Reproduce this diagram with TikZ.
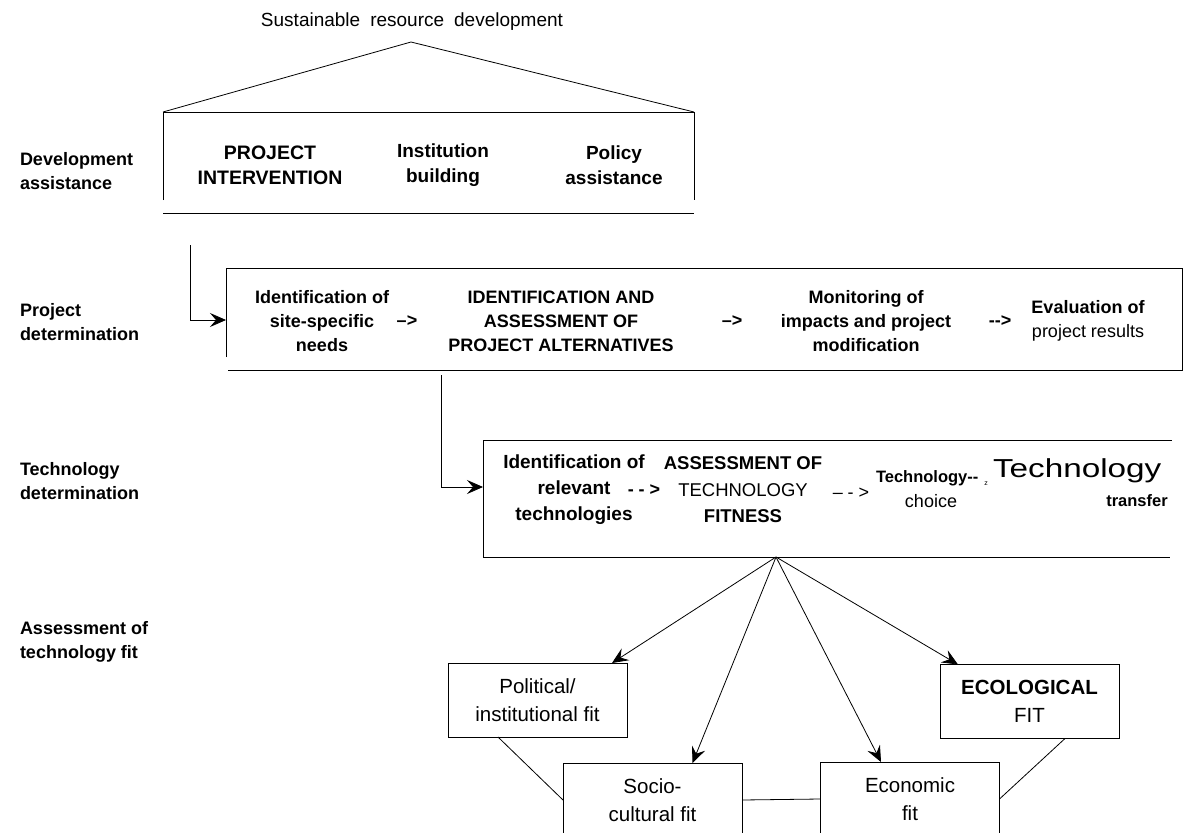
\documentclass[tikz,border=0pt]{standalone}
\usepackage{fontspec}
\setmainfont{Liberation Sans}
\usetikzlibrary{arrows.meta,calc}
\begin{document}
\begin{tikzpicture}[x=1pt,y=-1pt,
  every node/.style={inner sep=0pt, outer sep=0pt},
  lbl/.style={font=\bfseries\fontsize{18}{24}\selectfont, align=left, anchor=west},
  bt/.style={font=\bfseries\fontsize{18}{24}\selectfont, align=center},
  rt/.style={font=\fontsize{18}{24}\selectfont, align=center},
  fitbox/.style={draw, line width=0.8pt, minimum width=179pt, minimum height=74pt, align=center, font=\fontsize{20.5}{27.5}\selectfont},
  line/.style={line width=0.8pt},
  arr/.style={line width=0.8pt, -{Stealth[length=16pt,width=14pt,inset=6pt]}}
]
\useasboundingbox (0,0) rectangle (1201,832);
\clip (0,0) rectangle (1201,832);

% left labels
\node[lbl] (lda) at (20,171) {Development\\assistance};
\node[lbl] (lpd) at (20,322) {Project\\determination};
\node[lbl] (ltd) at (20,481) {Technology\\determination};
\node[lbl] (laf) at (20,642) {Assessment of\\technology fit};

% top
\node[rt, font=\fontsize{19}{24}\selectfont] (srd) at (412,22) {Sustainable\hspace{10pt}resource\hspace{10pt}development};
\coordinate (tl) at (163,112);
\coordinate (tr) at (694,112);
\coordinate (apex) at (411,42);
\draw[line] (tl) -- (apex) -- (tr);
\draw[line] (163,200) -- (tl) -- (tr) -- (694,200);
\draw[line] (163,213) -- (694,213);
\node[bt, font=\bfseries\fontsize{19.5}{25}\selectfont] (pi) at (270,165) {PROJECT\\INTERVENTION};
\node[bt, font=\bfseries\fontsize{19}{25}\selectfont] (ib) at (443,165) {Institution\\building};
\node[bt, font=\bfseries\fontsize{19}{25}\selectfont] (pa) at (614,165) {Policy\\assistance};

% project determination
\coordinate (a1s) at (190,245);
\coordinate (a1e) at (226,320);
\draw[arr] (a1s) |- (a1e);
\draw[line] (226,357) -- (226,268) -- (1182,268) -- (1182,370) -- (228,370);
\node[bt] (idn) at (322,321) {Identification of\\site-specific\\needs};
\node[bt] (ar1) at (407,321) {–>};
\node[bt] (ipa) at (561,321) {IDENTIFICATION AND\\ASSESSMENT OF\\PROJECT ALTERNATIVES};
\node[bt] (ar2) at (732,321) {–>};
\node[bt] (mon) at (866,321) {Monitoring of\\impacts and project\\modification};
\node[bt] (ar3) at (1000,321) {{-}{-}>};
\node[rt] (evl) at (1088,321) {\textbf{Evaluation of}\\project results};

% technology determination
\coordinate (a2s) at (441,375);
\coordinate (a2e) at (483,487);
\draw[arr] (a2s) |- (a2e);
\draw[line] (483,557) -- (483,440) -- (1172,440);
\draw[line] (483,557) -- (1170,557);
\node[bt, font=\bfseries\fontsize{19}{26}\selectfont] (irt) at (574,490) {Identification of\\relevant\\technologies};
\node[bt] (ar4) at (644,490) {{-} {-} >};
\node[rt, font=\fontsize{18.5}{26.5}\selectfont] (atf) at (743,490) {\textbf{ASSESSMENT OF}\\TECHNOLOGY\\\textbf{FITNESS}};
\node[rt] (ar5) at (851,493) {– {-} >};
\node[bt, font=\bfseries\fontsize{16.5}{20}\selectfont, anchor=west] (tc) at (876,478) {Technology{-}{-}};
\node[rt, font=\fontsize{7}{7}\selectfont] (zz) at (986,484) {z};
\node[rt, font=\fontsize{26}{28}\selectfont, anchor=west] (tt) at (993,471) {\scalebox{1.28}[1]{Technology}};
\node[rt] (ch) at (931,501) {choice};
\node[bt, font=\bfseries\fontsize{16.5}{20}\selectfont] (tf) at (1137,501) {transfer};
\coordinate (o) at (776,557);

% fit boxes
\node[fitbox] (pol) at (537.5,700) {Political/\\institutional fit};
\node[fitbox] (soc) at (652.5,800) {Socio-\\cultural fit};
\node[fitbox] (eco) at (910,799) {Economic\\fit};
\node[fitbox] (ecl) at (1029.5,701.5) {\textbf{ECOLOGICAL}\\FIT};

\draw[arr] (o) -- ([xshift=-15pt]pol.north east);
\draw[arr] (o) -- ([xshift=40pt]soc.north);
\draw[arr] (o) -- ([xshift=-29pt]eco.north);
\draw[arr] (o) -- ([xshift=18pt]ecl.north west);

\draw[line] ([xshift=-39.5pt]pol.south) -- (soc.west);
\draw[line] (soc.east) -- (eco.west);
\draw[line] ([xshift=35.5pt]ecl.south) -- (eco.east);
\end{tikzpicture}
\end{document}
